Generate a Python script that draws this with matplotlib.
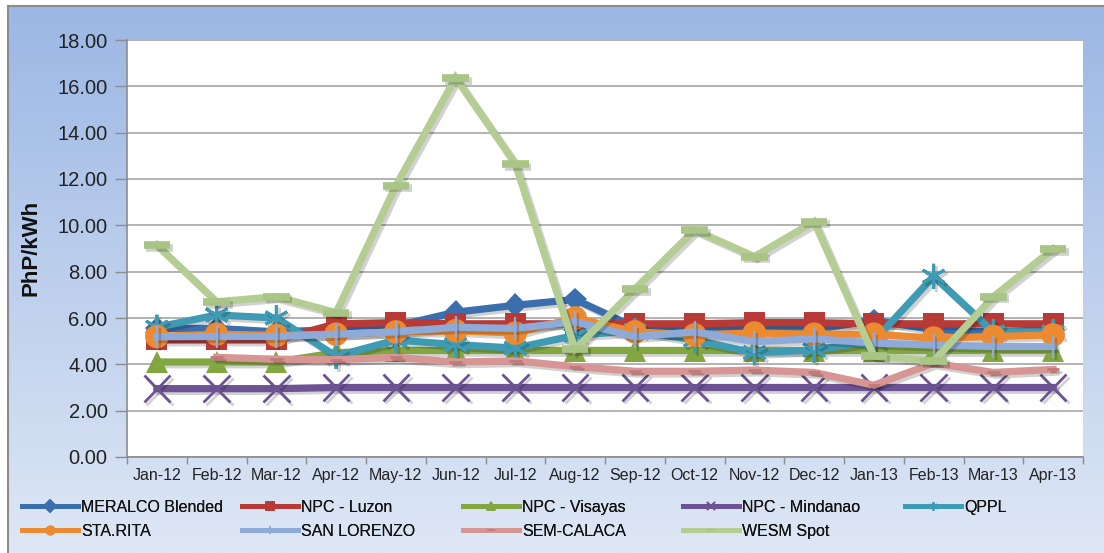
import numpy as np
import matplotlib
matplotlib.use("Agg")
import matplotlib.pyplot as plt
from matplotlib.lines import Line2D
import matplotlib.patheffects as pe

months = ["Jan-12", "Feb-12", "Mar-12", "Apr-12", "May-12", "Jun-12", "Jul-12", "Aug-12",
          "Sep-12", "Oct-12", "Nov-12", "Dec-12", "Jan-13", "Feb-13", "Mar-13", "Apr-13"]

meralco = [5.55, 5.55, 5.40, 5.50, 5.65, 6.25, 6.55, 6.80, 5.60, 5.50, 5.50, 5.50, 5.90, 5.50, 5.40, 5.50]
npc_luzon = [5.05, 5.05, 5.05, 5.75, 5.80, 5.75, 5.75, 5.75, 5.75, 5.75, 5.80, 5.80, 5.75, 5.75, 5.75, 5.75]
npc_visayas = [4.10, 4.10, 4.10, 4.50, 4.60, 4.60, 4.60, 4.60, 4.60, 4.60, 4.60, 4.60, 4.60, 4.60, 4.60, 4.60]
npc_mindanao = [2.95, 2.95, 2.95, 3.00, 3.00, 3.00, 3.00, 3.00, 3.00, 3.00, 3.00, 3.00, 3.00, 3.00, 3.00, 3.00]
qppl = [5.60, 6.13, 6.00, 4.35, 5.05, 4.85, 4.70, 5.25, 5.45, 5.05, 4.50, 4.62, 5.00, 7.80, 5.40, 5.40]
sta_rita = [5.20, 5.30, 5.25, 5.30, 5.40, 5.45, 5.35, 6.00, 5.40, 5.27, 5.35, 5.30, 5.30, 5.13, 5.20, 5.27]
san_lorenzo = [5.19, 5.20, 5.20, 5.30, 5.40, 5.60, 5.55, 5.84, 5.19, 5.40, 4.98, 5.10, 4.92, 4.83, 4.77, 4.77]
sem_calaca = [np.nan, 4.30, 4.22, 4.20, 4.30, 4.10, 4.15, 3.90, 3.70, 3.70, 3.75, 3.65, 3.10, 4.05, 3.65, 3.78]
wesm_spot = [9.15, 6.70, 6.92, 6.23, 11.71, 16.37, 12.65, 4.65, 7.25, 9.80, 8.65, 10.16, 4.36, 4.14, 6.92, 8.98]

series_names = ["MERALCO Blended", "NPC - Luzon", "NPC - Visayas", "NPC - Mindanao", "QPPL",
                "STA.RITA", "SAN LORENZO", "SEM-CALACA", "WESM Spot"]
series_values = [meralco, npc_luzon, npc_visayas, npc_mindanao, qppl,
                 sta_rita, san_lorenzo, sem_calaca, wesm_spot]
y_ticks = [0, 2, 4, 6, 8, 10, 12, 14, 16, 18]

colors = ["#3b6eac", "#b83a36", "#82a740", "#6d5393", "#3e9bb3",
          "#ec8a32", "#8eaad8", "#d79593", "#b4cd92"]
styles = [
    dict(marker="D", ms=12, mew=0),
    dict(marker="s", ms=15, mew=0),
    dict(marker="^", ms=16, mew=0),
    dict(marker="x", ms=19, mew=2.0),
    dict(marker=(6, 2, 0), ms=18, mew=2.2),
    dict(marker="o", ms=17, mew=0),
    dict(marker="|", ms=16, mew=1.6),
    dict(marker="_", ms=9, mew=2.0),
    dict(marker="_", ms=19, mew=5.5),
]
marker_colors = [None, None, None, None, None, None, None, "#c07a78", "#a9c585"]

W, H = 1104, 553
fig = plt.figure(figsize=(W / 100, H / 100), dpi=100)
fig.patch.set_facecolor("white")

# background gradient frame
bg = fig.add_axes([8 / W, 0, (W - 8) / W, (H - 6) / H], zorder=-10)
grad = np.linspace(0, 1, 256).reshape(-1, 1)
top = np.array([155, 183, 228]) / 255
bot = np.array([222, 231, 245]) / 255
img = top[None, None, :] * (1 - grad[:, :, None]) + bot[None, None, :] * grad[:, :, None]
bg.imshow(img, aspect="auto", extent=[0, 1, 0, 1], origin="upper")
bg.set_xlim(0, 1)
bg.set_ylim(0, 1)
bg.set_xticks([])
bg.set_yticks([])
for s in ["right", "bottom"]:
    bg.spines[s].set_visible(False)
for s in ["left", "top"]:
    bg.spines[s].set_color("#8c8c8c")
    bg.spines[s].set_linewidth(1.5)

left, right, topp, bottom = 127, 1083, 40, 457
ax = fig.add_axes([left / W, (H - bottom) / H, (right - left) / W, (bottom - topp) / H])
ax.set_facecolor("white")

x = np.arange(len(months))
shadow = [pe.SimpleLineShadow(offset=(2, -2), alpha=0.18, shadow_color="black"), pe.Normal()]
for i, (name, vals) in enumerate(zip(series_names, series_values)):
    st = styles[i]
    mc = marker_colors[i] or colors[i]
    ax.plot(x, vals, color=colors[i], lw=5.2, marker=st["marker"], ms=st["ms"],
            mew=st["mew"], mfc=mc, mec=mc, solid_joinstyle="miter",
            path_effects=shadow, zorder=3 + i, clip_on=False)

ax.set_xlim(-0.5, len(months) - 0.5)
ax.set_ylim(0, 18)
ax.set_yticks(y_ticks)
ax.set_yticklabels([f"{v:.2f}" for v in y_ticks], fontsize=14.5, color="#222222",
                   family="Liberation Sans")
ax.set_xticks(x)
ax.set_xticklabels(months, fontsize=11.5, color="#222222", family="Liberation Sans")
ax.set_xticks(np.arange(-0.5, len(months)), minor=True)
ax.tick_params(axis="x", which="major", length=0, pad=8)
ax.tick_params(axis="x", which="minor", length=5, color="#8c8c8c", width=1)
ax.tick_params(axis="y", which="major", length=9, color="#8c8c8c", width=1, pad=5)
ax.grid(axis="y", color="#a6a6a6", lw=1.2, zorder=0)
ax.set_axisbelow(True)
for s in ["top", "right"]:
    ax.spines[s].set_visible(False)
for s in ["left", "bottom"]:
    ax.spines[s].set_color("#8c8c8c")
    ax.spines[s].set_linewidth(1.2)

fig.text(31 / W, 1 - 248 / H, "PhP/kWh", rotation=90, ha="center", va="center",
         fontsize=16, fontweight="bold", family="Liberation Sans", color="#111111")

# legend: 5 columns, 2 rows
col_x = [22, 242, 463, 683, 905]
for c in range(5):
    handles, labels = [], []
    for r in range(2):
        i = r * 5 + c
        if i >= len(series_names):
            continue
        mk = styles[i]["marker"]
        mc = marker_colors[i] or colors[i]
        handles.append(Line2D([], [], color=colors[i], lw=3.5, marker=mk, ms=6,
                              mew=1.2, mfc=mc, mec=mc))
        labels.append(series_names[i])
    leg = fig.legend(handles, labels, loc="upper left",
                     bbox_to_anchor=(col_x[c] / W, 1 - 500 / H), frameon=False,
                     borderpad=0, borderaxespad=0, handlelength=3.5, handletextpad=0.2,
                     labelspacing=0.55, prop=dict(family="Liberation Sans", size=11.5))
    for t in leg.get_texts():
        t.set_color("#111111")
    fig.add_artist(leg)

fig.savefig("out.png", dpi=100)
